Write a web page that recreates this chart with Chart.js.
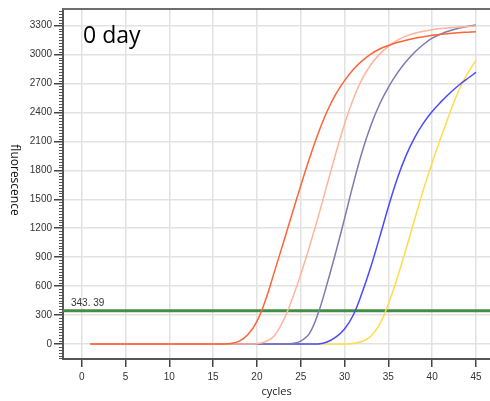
<!DOCTYPE html>
<html lang="en">
<head>
<meta charset="UTF-8">
<title>Amplification curves - 0 day</title>
<script src="https://cdn.jsdelivr.net/npm/chart.js"></script>
<style>
    html, body { margin: 0; padding: 0; background: #fff; }
    canvas { display: block; }
</style>
</head>
<body>
<canvas id="amp" width="490" height="401"></canvas>

<script>
    // cycle numbers and fluorescence
    const cycles = [1,2,3,4,5,6,7,8,9,10,11,12,13,14,15,16,17,18,19,20,21,22,23,24,25,26,27,28,29,30,31,32,33,34,35,36,37,38,39,40,41,42,43,44,45];

    const curveRed = [0,0,0,0,0,0,0,0,0,0,0,0,0,0,0,0,
        5,30,100,235,460,750,1045,1345,1640,1925,2185,2410,2590,2730,2845,2935,3005,3058,3095,3125,3150,3170,3185,3200,3210,3220,3228,3233,3238];
    const curveSalmon = [0,0,0,0,0,0,0,0,0,0,0,0,0,0,0,0,0,0,0,
        3,25,85,240,460,720,1010,1320,1650,1975,2280,2540,2745,2895,3005,3085,3148,3192,3222,3243,3258,3270,3279,3286,3292,3297];
    const curvePurple = [0,0,0,0,0,0,0,0,0,0,0,0,0,0,0,0,0,0,0,0,0,0,0,
        5,30,110,320,620,950,1300,1660,1990,2265,2485,2660,2805,2925,3025,3105,3170,3215,3248,3272,3292,3307];
    const curveBlue = [0,0,0,0,0,0,0,0,0,0,0,0,0,0,0,0,0,0,0,0,0,0,0,0,0,0,0,
        20,70,155,300,530,800,1105,1420,1710,1950,2140,2290,2410,2510,2600,2680,2750,2815];
    const curveYellow = [0,0,0,0,0,0,0,0,0,0,0,0,0,0,0,0,0,0,0,0,0,0,0,0,0,0,0,0,0,0,
        5,25,80,200,415,680,980,1290,1600,1880,2140,2390,2620,2800,2940];

    const threshold = 343.39;
    const thresholdLabel = '343. 39';
    const xTicks = [0,5,10,15,20,25,30,35,40,45];
    const yTicks = [0,300,600,900,1200,1500,1800,2100,2400,2700,3000,3300];
    const xMin = -2.13, xMax = 46.6;
    const yMin = -156, yMax = 3473;

    const toPoints = vals => cycles.map((c, i) => ({x: c, y: vals[i]}));

    const curve = (values, color) => ({
        data: toPoints(values),
        borderColor: color,
        borderWidth: 1.5,
        pointRadius: 0,
        tension: 0.4,
        fill: false
    });

    // extra drawing: frame top, minor ticks, labels
    const decor = {
        id: 'decor',
        afterDraw(chart) {
            const {ctx, chartArea: a, scales: {y}} = chart;
            ctx.save();

            ctx.strokeStyle = '#6e6e6e';
            ctx.lineWidth = 2;
            ctx.beginPath();
            ctx.moveTo(a.left, a.top);
            ctx.lineTo(a.right, a.top);
            ctx.stroke();

            ctx.strokeStyle = '#555';
            ctx.lineWidth = 1;
            for (let v = -150; v <= 3450; v += 30) {
                if (v % 300 === 0) continue;
                const py = Math.round(y.getPixelForValue(v)) + 0.5;
                ctx.beginPath();
                ctx.moveTo(a.left - 4, py);
                ctx.lineTo(a.left, py);
                ctx.stroke();
            }

            ctx.fillStyle = '#333';
            ctx.font = '10px "Liberation Sans"';
            ctx.textBaseline = 'alphabetic';
            ctx.fillText(thresholdLabel, a.left + 8, y.getPixelForValue(threshold) - 4.5);

            ctx.fillStyle = '#000';
            ctx.font = '23px "Open Sans"';
            ctx.fillText('0 day', a.left + 20, a.top + 34);

            ctx.translate(14, 180);
            ctx.rotate(Math.PI / 2);
            ctx.font = '12px "Open Sans"';
            ctx.textAlign = 'center';
            ctx.textBaseline = 'middle';
            ctx.fillStyle = '#111';
            ctx.fillText('fluorescence', 0, 0);
            ctx.restore();
        }
    };

    new Chart(document.getElementById('amp'), {
        type: 'line',
        data: {
            datasets: [
                curve(curveRed, '#ff6438'),
                curve(curveSalmon, '#ffb59c'),
                curve(curvePurple, '#7c7bb0'),
                curve(curveBlue, '#4a4aff'),
                curve(curveYellow, '#ffdc4a'),
                {
                    data: [{x: xMin, y: threshold}, {x: xMax, y: threshold}],
                    borderColor: '#458c45',
                    borderWidth: 3,
                    pointRadius: 0
                }
            ]
        },
        options: {
            responsive: false,
            animation: false,
            layout: {padding: {top: 9, right: 0, bottom: 0, left: 0}},
            plugins: {legend: {display: false}, tooltip: {enabled: false}},
            scales: {
                x: {
                    type: 'linear',
                    min: xMin,
                    max: xMax,
                    afterBuildTicks: s => { s.ticks = xTicks.map(v => ({value: v})); },
                    afterFit: s => { s.height = 42; },
                    grid: {color: '#e2e2e2', lineWidth: 1.5, tickColor: '#444', tickLength: 8, tickWidth: 1.5},
                    border: {color: '#555', width: 2},
                    ticks: {color: '#333', font: {family: 'Liberation Sans', size: 10}, padding: 4, maxRotation: 0, autoSkip: false,
                        callback: v => String(v)},
                    title: {display: true, text: 'cycles', color: '#222', font: {family: 'Open Sans', size: 11}, padding: {top: 0, bottom: 3}}
                },
                y: {
                    type: 'linear',
                    min: yMin,
                    max: yMax,
                    afterBuildTicks: s => { s.ticks = yTicks.map(v => ({value: v})); },
                    afterFit: s => { s.width = 63; },
                    grid: {color: '#e2e2e2', lineWidth: 1.5, tickColor: '#444', tickLength: 9, tickWidth: 1.5},
                    border: {color: '#555', width: 2},
                    ticks: {color: '#333', font: {family: 'Liberation Sans', size: 10}, padding: 2,
                        callback: v => String(v)}
                }
            }
        },
        plugins: [decor]
    });
</script>
</body>
</html>
